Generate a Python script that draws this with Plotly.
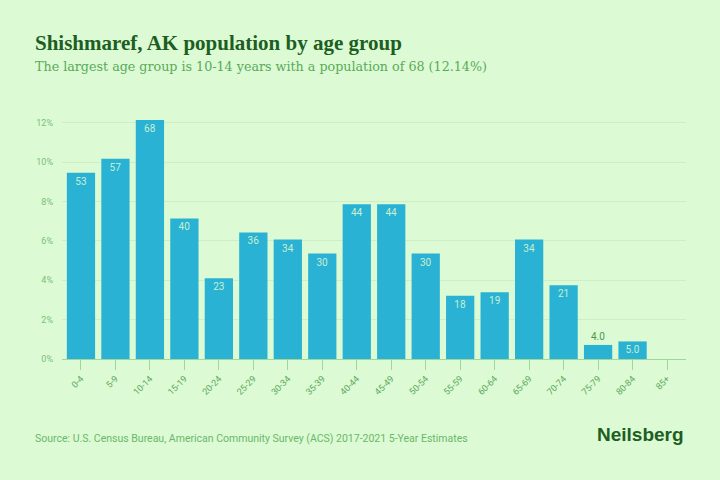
import plotly.graph_objects as go

categories = ["0-4", "5-9", "10-14", "15-19", "20-24", "25-29", "30-34", "35-39", "40-44",
              "45-49", "50-54", "55-59", "60-64", "65-69", "70-74", "75-79", "80-84", "85+"]
population = [53, 57, 68, 40, 23, 36, 34, 30, 44, 44, 30, 18, 19, 34, 21, 4, 5, 0]
labels = ["53", "57", "68", "40", "23", "36", "34", "30", "44", "44", "30", "18", "19", "34", "21", "4.0", "5.0", ""]
y_ticks = [0, 2, 4, 6, 8, 10, 12]

total = sum(population)
pct = [p / total * 100 for p in population]
positions = ["outside" if 0 < p < 4.5 else "inside" for p in population]

BG = "#dcfad4"
BAR = "#29b2d3"

fig = go.Figure()
fig.add_trace(go.Bar(
    x=categories, y=pct, text=labels, textposition=positions,
    insidetextanchor="end",
    textfont=dict(family="Roboto, sans-serif", size=10, color="#c8f0d0"),
    outsidetextfont=dict(family="Roboto, sans-serif", size=10, color="#4a9a4a"),
    marker=dict(color=BAR, line=dict(width=0)),
    width=0.82, cliponaxis=False, hoverinfo="skip",
))

fig.update_layout(
    width=720, height=480,
    paper_bgcolor=BG, plot_bgcolor=BG,
    margin=dict(l=62, r=34, t=113, b=121),
    showlegend=False,
    xaxis=dict(
        tickangle=-45, tickfont=dict(family="Roboto, sans-serif", size=9, color="#5aa85a"),
        ticks="outside", ticklen=10, tickcolor="#9ed89a", showline=True, linecolor="#9ed89a",
        linewidth=1, showgrid=False, range=[-0.55, 17.55],
    ),
    yaxis=dict(
        range=[0, 12.5], tickvals=y_ticks, ticktext=[f"{v}%" for v in y_ticks],
        tickfont=dict(family="Roboto, sans-serif", size=9, color="#7abf7a"),
        showgrid=True, gridcolor="#cdeec6", gridwidth=1, zeroline=False,
        ticks="", ticklabelstandoff=8,
    ),
    font=dict(family="Roboto, sans-serif"),
)

fig.add_annotation(
    xref="paper", yref="paper", x=-0.047, y=1.0, yanchor="bottom", xanchor="left",
    yshift=56, text="<b>Shishmaref, AK population by age group</b>", showarrow=False,
    font=dict(family="Liberation Serif, serif", size=21, color="#1d5e22"),
)
fig.add_annotation(
    xref="paper", yref="paper", x=-0.047, y=1.0, yanchor="bottom", xanchor="left",
    yshift=37, text="The largest age group is 10-14 years with a population of 68 (12.14%)",
    showarrow=False, font=dict(family="DejaVu Serif, serif", size=12.7, color="#5aaa5a"),
)
fig.add_annotation(
    xref="paper", yref="paper", x=-0.047, y=0, yanchor="top", xanchor="left",
    yshift=-71, text="Source: U.S. Census Bureau, American Community Survey (ACS) 2017-2021 5-Year Estimates",
    showarrow=False, font=dict(family="Roboto, sans-serif", size=10.5, color="#6ab86a"),
)
fig.add_annotation(
    xref="paper", yref="paper", x=1.0, y=0, yanchor="top", xanchor="right",
    yshift=-63, text="<b>Neilsberg</b>", showarrow=False,
    font=dict(family="Liberation Sans, Arial, sans-serif", size=19, color="#1d5e22"),
)

fig.write_html("out.html")
